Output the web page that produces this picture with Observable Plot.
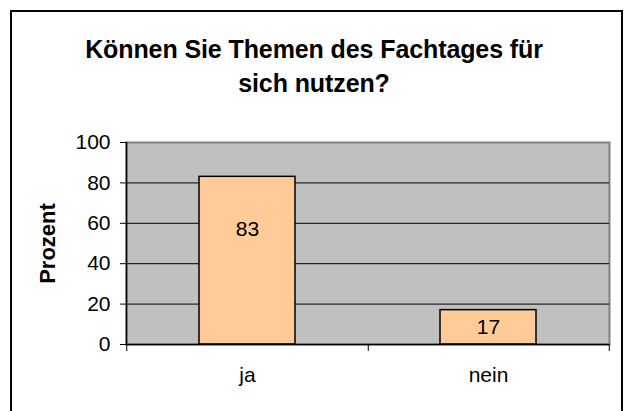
<!DOCTYPE html>
<html><head><meta charset="utf-8">
<script src="https://cdn.jsdelivr.net/npm/d3@7"></script>
<script src="https://cdn.jsdelivr.net/npm/@observablehq/plot@0.6"></script>
<style>
body{margin:0;background:#fff;}
#wrap{position:relative;width:624px;height:411px;overflow:hidden;font-family:"Liberation Sans",Arial,sans-serif;}
#border{position:absolute;left:10px;top:10px;width:613px;height:430px;border:2px solid #000;box-sizing:border-box;}
#title{position:absolute;left:0;top:32px;width:628px;text-align:center;font-weight:bold;font-size:25px;line-height:34px;color:#000;letter-spacing:-0.1px;}
#chart{position:absolute;left:0;top:0;}
</style></head><body>
<div id="wrap"><div id="border"></div><div id="title">Können Sie Themen des Fachtages für<br>sich nutzen?</div><div id="chart"></div></div>
<script>
const categories = ["ja", "nein"];
const values = [83, 17];
const yTicks = [0, 20, 40, 60, 80, 100];
const gridLines = [20, 40, 60, 80];
const yLabel = "Prozent";

const data = categories.map((c, i) => ({category: c, value: values[i]}));
const W = 624, H = 411, mL = 126, mR = 15, mT = 142, mB = 67;
const step = (W - mL - mR) / categories.length;

const chart = Plot.plot({
  width: W, height: H,
  marginLeft: mL, marginRight: mR, marginTop: mT, marginBottom: mB,
  style: {background: "transparent", fontFamily: "Liberation Sans, Arial, sans-serif", fontSize: "21px", color: "#000", overflow: "visible"},
  x: {domain: categories, paddingInner: 0.6, paddingOuter: 0.3},
  y: {domain: [0, 100]},
  marks: [
    Plot.frame({fill: "#C0C0C0", stroke: "#808080", strokeWidth: 2}),
    Plot.ruleY(gridLines, {stroke: "#000", strokeWidth: 1}),
    Plot.barY(data, {x: "category", y: "value", fill: "#FFCC99", stroke: "#000", strokeWidth: 1.5}),
    Plot.text(data, {x: "category", y: d => Math.max(d.value / 2, d.value - 26), text: d => String(d.value), fontSize: 21, fill: "#000"}),
    Plot.ruleY([0], {stroke: "#000", strokeWidth: 1.5}),
    Plot.frame({anchor: "left", stroke: "#000", strokeWidth: 1.5}),
    Plot.axisY({ticks: yTicks, tickSize: 6, tickPadding: 10, label: null, fontSize: 21, tickFormat: d => String(d)}),
    Plot.axisX({tickSize: 0, tickPadding: 23, label: null, fontSize: 21}),
    Plot.axisX(categories, {tickSize: 7, dx: step / 2, label: null, tickFormat: () => ""}),
    Plot.axisX([categories[0]], {tickSize: 7, dx: -step / 2, label: null, tickFormat: () => ""}),
    Plot.text([yLabel], {frameAnchor: "left", dx: -79, rotate: -90, textAnchor: "middle", fontWeight: "bold", fontSize: 22, fill: "#000"})
  ]
});
document.getElementById("chart").appendChild(chart);
</script>
</body></html>
